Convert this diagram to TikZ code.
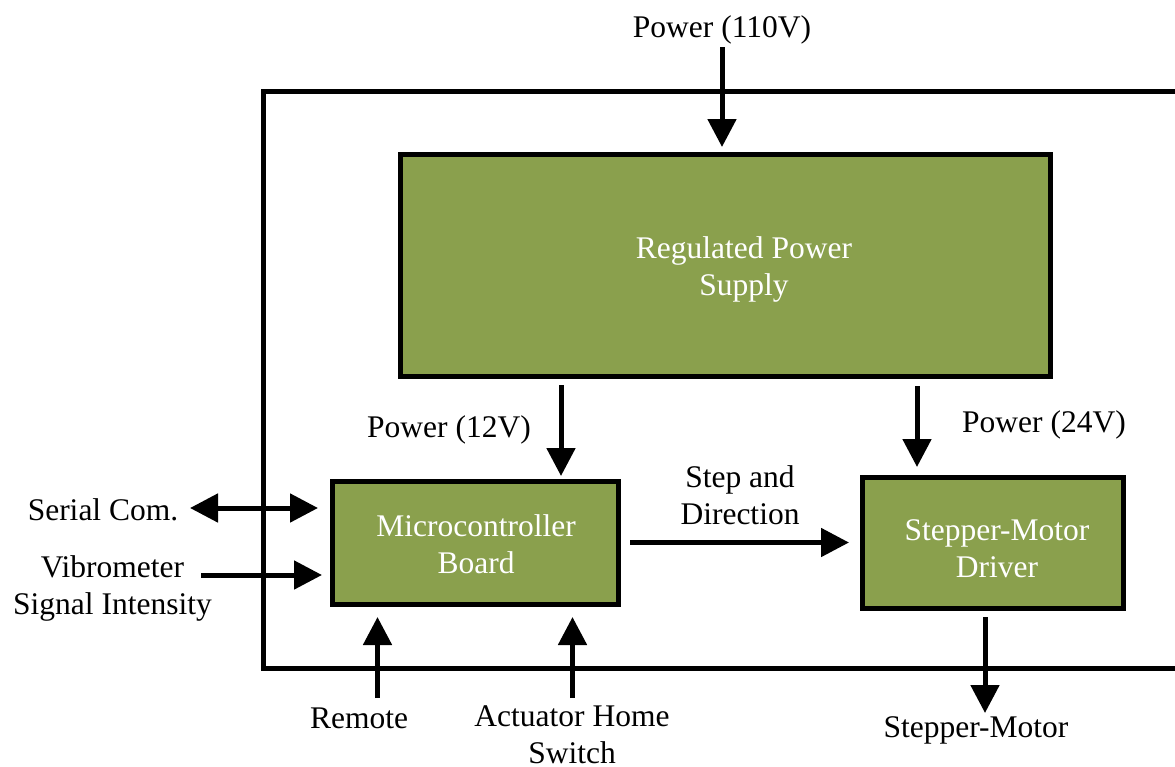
\documentclass[tikz,border=0pt]{standalone}
\usepackage{fontspec}
\setmainfont{Liberation Serif}
\usetikzlibrary{arrows.meta,calc}
\definecolor{boxgreen}{RGB}{138,160,77}
\begin{document}
\begin{tikzpicture}[x=1pt,y=-1pt,
  blk/.style={draw=black,line width=5pt,fill=boxgreen,inner sep=0pt},
  txt/.style={font=\fontsize{31.5}{37}\selectfont,inner sep=0pt,align=center,anchor=base},
  wtxt/.style={txt,text=white},
  arr/.style={line width=5pt,-{Triangle[width=28pt,length=28pt]}},
  darr/.style={line width=5pt,{Triangle[width=28pt,length=28pt]}-{Triangle[width=28pt,length=28pt]}}]
\useasboundingbox (0,0) rectangle (1175,766);
% enclosure
\draw[line width=4.5pt] (1190,91.5) -- (263.5,91.5) -- (263.5,668.5) -- (1190,668.5);
% blocks
\node[blk,minimum width=650pt,minimum height=222pt] (rps) at (725.5,265.5) {};
\node[blk,minimum width=286pt,minimum height=123pt] (mcb) at (475,543) {};
\node[blk,minimum width=261pt,minimum height=131pt] (smd) at (992.5,542.5) {};
\node[wtxt] (rpst) at (744,295) {Regulated Power\\Supply};
\node[wtxt] (mcbt) at (476,573) {Microcontroller\\Board};
\node[wtxt] (smdt) at (997,577) {Stepper-Motor\\Driver};
% free ends
\coordinate (p110) at (722,47);
\coordinate (serl) at (190,508);
\coordinate (vib) at (201,575);
\coordinate (rem) at (377.5,698);
\coordinate (act) at (572.5,698);
\coordinate (mot) at (985,713);
\coordinate (x12) at (561,0);
\coordinate (x24) at (917,0);
% labels
\node[txt] (l110) at (722,37) {Power (110V)};
\node[txt] (l12) at (449,437) {Power (12V)};
\node[txt] (l24) at (1044,432) {Power (24V)};
\node[txt] (lser) at (103,520) {Serial Com.};
\node[txt] (lvib) at (112.5,614) {Vibrometer\\Signal Intensity};
\node[txt] (lrem) at (359,728) {Remote};
\node[txt] (lact) at (572,763) {Actuator Home\\Switch};
\node[txt] (lstep) at (740,524) {Step and\\Direction};
\node[txt] (lmot) at (976,737) {Stepper-Motor};
% connectors
\draw[arr,shorten >=5pt] (p110) -- (rps.north -| p110);
\draw[arr,shorten <=6pt,shorten >=3pt] (rps.south -| x12) -- (mcb.north -| x12);
\draw[arr,shorten <=7pt,shorten >=7.5pt] (rps.south -| x24) -- (smd.north -| x24);
\draw[arr,shorten <=9.5pt,shorten >=10.5pt] (mcb.east |- smd.west) -- (smd.west);
\draw[darr,shorten >=11.5pt] (serl) -- (mcb.west |- serl);
\draw[arr,shorten >=7.5pt] (vib) -- (mcb.west |- vib);
\draw[arr,shorten >=10pt] (rem) -- (mcb.south -| rem);
\draw[arr,shorten >=10pt] (act) -- (mcb.south -| act);
\draw[arr,shorten <=6.5pt] (smd.south -| mot) -- (mot);
\end{tikzpicture}
\end{document}
